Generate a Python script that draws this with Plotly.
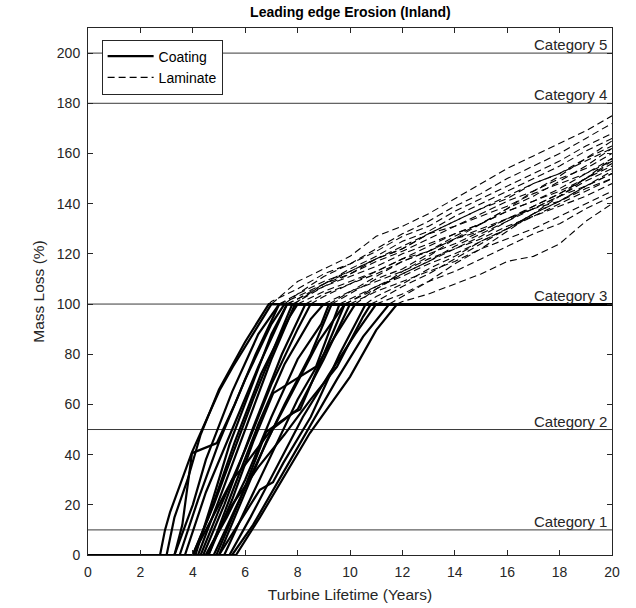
import plotly.graph_objects as go

# ---- data ----
category_levels = [10, 50, 100, 180, 200]
category_labels = ["Category 1", "Category 2", "Category 3", "Category 4", "Category 5"]
x_ticks = [0, 2, 4, 6, 8, 10, 12, 14, 16, 18, 20]
y_ticks = [0, 20, 40, 60, 80, 100, 120, 140, 160, 180, 200]

# coating: mass loss (%) vs. years, capped at 100 %
coating_x = [
    [0, 2.75, 2.94, 3.13, 3.97, 5.04, 5.53, 7.0, 20],
    [0, 3.0, 3.3, 3.8, 4.3, 5.0, 6.0, 6.9, 20],
    [0, 3.3, 4.0, 4.5, 5.5, 6.5, 7.3, 20],
    [0, 3.5, 4.2, 5.0, 6.0, 7.0, 7.5, 20],
    [0, 3.7, 4.5, 5.5, 6.5, 7.6, 20],
    [0, 4.0, 4.8, 5.5, 6.3, 7.2, 7.8, 20],
    [0, 4.0, 4.6, 5.6, 6.6, 7.7, 8.0, 20],
    [0, 4.2, 5.0, 6.0, 7.0, 7.9, 20],
    [0, 4.3, 5.0, 6.0, 7.0, 8.0, 8.5, 20],
    [0, 4.4, 5.2, 6.2, 7.4, 8.3, 20],
    [0, 4.5, 5.3, 6.0, 7.0, 8.0, 8.9, 9.2, 20],
    [0, 4.6, 5.5, 6.5, 7.5, 8.5, 9.0, 20],
    [0, 4.8, 5.6, 6.5, 7.5, 8.5, 9.3, 20],
    [0, 5.0, 5.8, 6.8, 7.8, 8.8, 9.8, 20],
    [0, 4.0, 4.5, 5.5, 6.0, 7.0, 8.0, 9.0, 10.0, 20],
    [0, 5.2, 6.0, 7.0, 8.0, 9.0, 10.2, 20],
    [0, 4.5, 5.5, 6.5, 7.5, 8.5, 9.5, 10.5, 10.8, 20],
    [0, 5.4, 6.2, 7.2, 8.2, 9.2, 10.2, 11.0, 20],
    [0, 5.5, 6.3, 7.3, 8.3, 9.5, 10.5, 11.5, 20],
    [0, 5.65, 6.56, 8.47, 10.0, 11.0, 11.8, 20],
    [0, 3.3, 3.6, 3.97, 4.92, 5.6, 6.4, 7.3, 20],
    [0, 4.1, 4.7, 5.4, 6.2, 7.0, 7.6, 20],
    [0, 5.0, 6.56, 7.06, 7.45, 8.5, 9.6, 10.6, 20],
    [0, 4.6, 5.5, 6.3, 7.07, 8.1, 8.7, 9.6, 20],
    [0, 4.9, 5.8, 6.8, 7.8, 8.1, 9.0, 9.8, 20],
]
coating_y = [
    [0, 0, 10, 17, 41, 66, 75, 100, 100],
    [0, 0, 15, 30, 48, 66, 85, 100, 100],
    [0, 0, 20, 38, 65, 88, 100, 100],
    [0, 0, 22, 45, 70, 92, 100, 100],
    [0, 0, 25, 50, 75, 100, 100],
    [0, 0, 20, 40, 62, 85, 100, 100],
    [0, 0, 15, 45, 72, 95, 100, 100],
    [0, 0, 22, 50, 78, 100, 100],
    [0, 0, 18, 42, 68, 90, 100, 100],
    [0, 0, 20, 48, 80, 100, 100],
    [0, 0, 15, 30, 55, 78, 92, 100, 100],
    [0, 0, 25, 52, 76, 94, 100, 100],
    [0, 0, 18, 38, 60, 80, 100, 100],
    [0, 0, 20, 45, 65, 85, 100, 100],
    [0, 0, 10, 30, 36, 50, 58, 78, 100, 100],
    [0, 0, 18, 40, 62, 80, 100, 100],
    [0, 0, 20, 35, 48, 62, 75, 95, 100, 100],
    [0, 0, 15, 35, 55, 72, 88, 100, 100],
    [0, 0, 12, 30, 48, 70, 87, 100, 100],
    [0, 0, 15, 48.6, 71, 89.6, 100, 100],
    [0, 0, 12, 40.6, 44.6, 60, 80, 100, 100],
    [0, 0, 20, 44, 66, 88, 100, 100],
    [0, 0, 26, 29, 36.6, 55, 80, 100, 100],
    [0, 0, 22, 45, 64.5, 71, 75, 100, 100],
    [0, 0, 22, 49, 56.5, 58, 80, 100, 100],
]

# laminate: starts at 100 % when the coating is gone; values at the whole years after that
laminate_vals = [
    [109, 114, 119, 127, 131, 136, 142, 148, 154, 159, 164, 169, 175],
    [101, 106, 112, 116, 121, 127, 131, 137, 142, 147, 152, 157, 163, 168],
    [104, 109, 113, 118, 122, 128, 131, 136, 141, 145, 150, 154, 160],
    [104, 111, 116, 122, 128, 133, 139, 144, 150, 155, 160, 166, 172],
    [102, 107, 111, 115, 120, 124, 128, 132, 137, 141, 145, 150, 155],
    [101, 107, 112, 118, 122, 128, 133, 138, 142, 148, 152, 158, 163],
    [105, 109, 113, 118, 121, 126, 130, 134, 138, 141, 146, 150],
    [101, 108, 114, 119, 125, 129, 135, 140, 145, 150, 155, 161, 166],
    [103, 108, 113, 118, 123, 128, 132, 137, 141, 146, 152, 158],
    [104, 108, 112, 117, 121, 126, 129, 134, 138, 143, 147, 152],
    [105, 111, 117, 121, 127, 132, 138, 143, 149, 155, 162],
    [105, 109, 113, 118, 122, 126, 131, 135, 139, 143, 148],
    [104, 110, 114, 120, 124, 129, 134, 139, 144, 150, 156],
    [101, 107, 111, 116, 120, 125, 130, 135, 140, 145, 150],
    [105, 109, 113, 117, 122, 126, 130, 135, 140, 145],
    [106, 113, 119, 126, 132, 138, 145, 151, 158, 165],
    [101, 107, 112, 118, 124, 130, 136, 141, 147, 153],
    [104, 109, 113, 118, 123, 128, 132, 138, 143],
    [103, 109, 116, 122, 129, 136, 143, 150, 158],
    [101, 104, 108, 112, 117, 119, 124, 133, 140],
    [103, 108, 112, 117, 121, 126, 131, 135, 139, 144, 148, 152, 157],
    [102, 108, 113, 118, 123, 128, 133, 138, 143, 148, 152, 157, 162],
    [103, 108, 114, 119, 125, 130, 136, 141, 147, 152],
    [102, 107, 112, 117, 122, 127, 133, 138, 143, 149, 154],
    [101, 106, 112, 117, 123, 128, 133, 139, 144, 150, 157],
]

FONT = "Liberation Sans, Arial, Helvetica, sans-serif"
TXT = "#262626"

fig = go.Figure()

for i, (cx, cy) in enumerate(zip(coating_x, coating_y)):
    fig.add_trace(go.Scatter(
        x=cx, y=cy, mode="lines", name="Coating", legendgroup="c",
        showlegend=(i == 0), line=dict(color="black", width=2.2)))

for i, (cx, cy, vals) in enumerate(zip(coating_x, coating_y, laminate_vals)):
    t0 = cx[cy.index(100)]
    yrs = [yr for yr in range(0, 21) if yr > t0]
    fig.add_trace(go.Scatter(
        x=[t0] + yrs, y=[100] + vals, mode="lines", name="Laminate", legendgroup="l",
        showlegend=(i == 0), line=dict(color="black", width=1.1, dash="7px,4px")))

for lvl, lab in zip(category_levels, category_labels):
    fig.add_shape(type="line", xref="x", yref="y", x0=0, x1=20, y0=lvl, y1=lvl,
                  line=dict(color="#3a3a3a", width=1), layer="below")
    fig.add_annotation(x=20, y=lvl, xref="x", yref="y", text=lab, showarrow=False,
                       xanchor="right", yanchor="bottom", xshift=-3, yshift=-2,
                       font=dict(family=FONT, size=15, color=TXT))

axis_common = dict(showline=True, linecolor=TXT, linewidth=1, mirror="ticks",
                   ticks="inside", ticklen=5, tickcolor=TXT, showgrid=False,
                   zeroline=False, tickfont=dict(family=FONT, size=14, color=TXT))

fig.update_layout(
    width=636, height=608,
    margin=dict(l=88, r=24, t=28, b=53, autoexpand=False),
    paper_bgcolor="white", plot_bgcolor="white",
    title=dict(text="<b>Leading edge Erosion (Inland)</b>", x=0.551, xanchor="center",
               y=1 - 12 / 608, yanchor="middle",
               font=dict(family=FONT, size=14, color="black")),
    xaxis=dict(range=[0, 20], tickvals=x_ticks, ticktext=[str(v) for v in x_ticks],
               ticklabelstandoff=4,
               title=dict(text="Turbine Lifetime (Years)", standoff=10,
                          font=dict(family=FONT, size=15.5, color=TXT)),
               **axis_common),
    yaxis=dict(range=[0, 210], tickvals=y_ticks, ticktext=[str(v) for v in y_ticks],
               ticklabelstandoff=4,
               title=dict(text="Mass Loss (%)", standoff=8,
                          font=dict(family=FONT, size=15.5, color=TXT)),
               **axis_common),
    legend=dict(x=0.026, y=0.978, xanchor="left", yanchor="top",
                bgcolor="white", bordercolor=TXT, borderwidth=1,
                font=dict(family=FONT, size=14, color="black"),
                tracegroupgap=0, itemwidth=46),
    showlegend=True,
)

fig.write_html("out.html", config={"displayModeBar": False},
               post_script="document.body.style.margin='0px';")
